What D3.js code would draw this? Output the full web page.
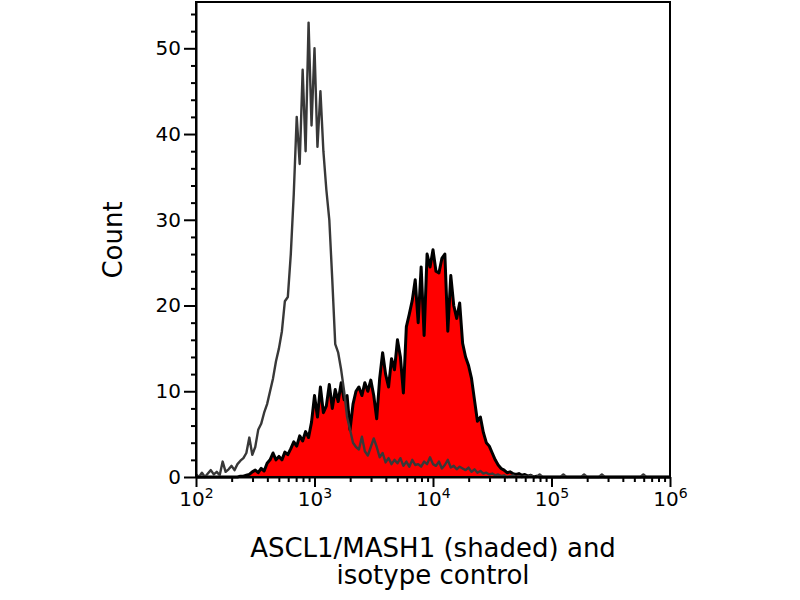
<!DOCTYPE html>
<html>
<head>
<meta charset="utf-8">
<script src="https://cdn.jsdelivr.net/npm/d3@7"></script>
<style>
  body { margin: 0; background: #fff; }
  svg { display: block; font-family: "DejaVu Sans", Verdana, sans-serif; }
</style>
</head>
<body>
<svg></svg>
<script>

// histogram channels: 40 channels per decade, from 10^2 to 10^6
var channelsPerDecade = 40;
var firstDecade = 2;

// isotype control (grey outline)
var isotypeCounts = [
    0.3, 0, 0.5, 0, 0.4, 0.8, 0.3, 0.6, 0.2, 1.8,
    0.6, 0.9, 1.3, 0.8, 1.5, 1.9, 2.2, 2.8, 4.6, 2.6,
    3.5, 5.5, 6.2, 7.5, 8.5, 10, 11.5, 13.5, 15, 17,
    20.5, 21, 26, 33, 42, 36.5, 47.5, 38, 53, 41,
    50, 38.5, 45, 38, 33.5, 30, 23, 15.5, 14.5, 12.5,
    10, 7, 5.5, 4, 3.5, 3.2, 4.7, 3, 2.5, 3.5,
    4.5, 3.5, 2.3, 2.8, 1.7, 2.2, 1.5, 2, 1.6, 2.2,
    1.3, 1.8, 1.2, 2, 1.4, 1.5, 1.2, 1.8, 1.5, 2.3,
    1.5, 1.3, 1.8, 1, 1.4, 2, 1.1, 1.3, 0.9, 1.2,
    1, 0.8, 1.1, 0.6, 0.9, 0.5, 0.7, 0.4, 0.5, 0.3,
    0.4, 0.2, 0.3, 0.1, 0.2, 0, 0.1, 0.2, 0, 0.1,
    0, 0.1, 0, 0.2, 0, 0, 0.3, 0, 0, 0,
    0, 0, 0, 0, 0.3, 0, 0, 0, 0, 0,
    0, 0.3, 0, 0, 0, 0, 0, 0.3, 0, 0,
    0, 0, 0, 0, 0, 0, 0, 0, 0, 0,
    0, 0.3, 0, 0, 0, 0, 0, 0, 0, 0,
    0
];

// ASCL1/MASH1 (red shaded)
var ascl1Counts = [
    0, 0, 0, 0, 0, 0, 0, 0, 0, 0,
    0, 0, 0, 0, 0, 0.1, 0.1, 0.2, 0.3, 0.6,
    0.8, 0.5, 1.0, 0.7, 1.6, 2.0, 2.8, 2.0, 2.4, 2.0,
    2.9, 2.6, 3.3, 4.1, 3.6, 4.8, 4.2, 5.3, 4.6, 6.4,
    9.5, 7.0, 10.5, 7.5, 8.3, 10.8, 8.0, 10.2, 8.8, 11.0,
    9.0, 9.5, 5.5, 8.5, 10.0, 10.5, 9.5, 11.0, 10.0, 11.3,
    9.5, 6.8, 11.5, 14.5, 12.0, 10.5, 13.8, 12.5, 16.0, 14.0,
    9.8, 17.5, 19.0, 20.6, 23.0, 18.0, 24.5, 16.5, 26.0, 24.5,
    26.5, 24.0, 23.8, 25.5, 26.0, 17.0, 23.5, 20.0, 18.5, 20.3,
    15.6, 14.0, 13.0, 11.5, 9.0, 6.5, 7.0, 5.2, 4.0, 3.6,
    2.8, 2.0, 1.4, 1.0, 0.8, 0.5, 0.6, 0.4, 0.3, 0.4,
    0.2, 0.3, 0.1, 0.2, 0, 0.1, 0, 0, 0, 0,
    0, 0, 0, 0, 0, 0, 0, 0, 0, 0,
    0, 0, 0, 0, 0, 0, 0, 0, 0, 0,
    0, 0, 0, 0, 0, 0, 0, 0, 0, 0,
    0, 0, 0, 0, 0, 0, 0, 0, 0, 0,
    0
];

var xMajorTicks = [1e2, 1e3, 1e4, 1e5, 1e6];
var yMajorTicks = [0, 10, 20, 30, 40, 50];
var yMinorTicks = [2, 4, 6, 8, 12, 14, 16, 18, 22, 24, 26, 28, 32, 34, 36, 38, 42, 44, 46, 48, 52, 54];

var yLabel = 'Count';
var xLabelLines = ['ASCL1/MASH1 (shaded) and', 'isotype control'];

document.addEventListener("DOMContentLoaded", (event) => {
    drawChart();
});

function toPoints(counts) {
    return counts.map((c, i) => {
        return { value: Math.pow(10, firstDecade + i / channelsPerDecade), count: c };
    });
}

function drawChart() {
    var svgWidth = 800, svgHeight = 600;
    var margin = { top: 2, right: 130, bottom: 123, left: 196 };
    var width = svgWidth - margin.left - margin.right;
    var height = svgHeight - margin.top - margin.bottom;

    var svg = d3.select('svg')
        .attr('width', svgWidth)
        .attr('height', svgHeight);

    var g = svg.append('g')
        .attr('transform', 'translate(' + margin.left + ',' + margin.top + ')');

    var x = d3.scaleLog()
        .domain([1e2, 1e6])
        .range([0, width]);

    var y = d3.scaleLinear()
        .domain([0, 55.4])
        .range([height, 0]);

    var isotype = toPoints(isotypeCounts);
    var ascl1 = toPoints(ascl1Counts);

    var area = d3.area()
        .x((d) => { return x(d.value) })
        .y0(y(0))
        .y1((d) => { return y(d.count) });

    var line = d3.line()
        .x((d) => { return x(d.value) })
        .y((d) => { return y(d.count) });

    // shaded sample
    g.append('path')
        .datum(ascl1)
        .attr('fill', '#ff0000')
        .attr('d', area);

    g.append('path')
        .datum(ascl1)
        .attr('fill', 'none')
        .attr('stroke', '#000')
        .attr('stroke-width', 3)
        .attr('stroke-linejoin', 'round')
        .attr('d', line);

    // isotype control
    g.append('path')
        .datum(isotype)
        .attr('fill', 'none')
        .attr('stroke', '#383838')
        .attr('stroke-width', 2.4)
        .attr('stroke-linejoin', 'round')
        .attr('d', line);

    // frame
    g.append('rect')
        .attr('x', 0)
        .attr('y', 0)
        .attr('width', width)
        .attr('height', height)
        .attr('fill', 'none')
        .attr('stroke', '#000')
        .attr('stroke-width', 2);

    // x axis minor ticks
    var xMinor = [];
    xMajorTicks.slice(0, -1).forEach((d) => {
        for (var k = 2; k <= 9; k++) xMinor.push(d * k);
    });

    g.append('g')
        .attr('transform', 'translate(0,' + height + ')')
        .call(d3.axisBottom(x).tickValues(xMinor).tickSize(5).tickSizeOuter(0).tickFormat(''))
        .call((a) => { a.select('.domain').remove(); a.selectAll('line').attr('stroke-width', 2); });

    var xAxis = g.append('g')
        .attr('transform', 'translate(0,' + height + ')')
        .call(d3.axisBottom(x).tickValues(xMajorTicks).tickSize(10).tickPadding(5).tickSizeOuter(0))
        .attr('font-size', 20)
        .attr('font-family', '"DejaVu Sans", Verdana, sans-serif');
    xAxis.select('.domain').attr('stroke-width', 2);
    xAxis.selectAll('line').attr('stroke-width', 2);
    xAxis.selectAll('text').each(function(d) {
        var t = d3.select(this);
        t.text('');
        t.append('tspan').text('10');
        t.append('tspan')
            .attr('dy', '-8')
            .attr('font-size', 14)
            .text(Math.round(Math.log10(d)));
    });

    // y axis
    g.append('g')
        .call(d3.axisLeft(y).tickValues(yMinorTicks).tickSize(5).tickSizeOuter(0).tickFormat(''))
        .call((a) => { a.select('.domain').remove(); a.selectAll('line').attr('stroke-width', 2); });

    var yAxis = g.append('g')
        .call(d3.axisLeft(y).tickValues(yMajorTicks).tickSize(12).tickPadding(3).tickSizeOuter(0))
        .attr('font-size', 20)
        .attr('font-family', '"DejaVu Sans", Verdana, sans-serif');
    yAxis.select('.domain').attr('stroke-width', 2);
    yAxis.selectAll('line').attr('stroke-width', 2);

    // axis titles
    svg.append('text')
        .attr('transform', 'translate(122,240) rotate(-90)')
        .attr('text-anchor', 'middle')
        .attr('font-size', 26)
        .text(yLabel);

    svg.append('g')
        .selectAll('text')
        .data(xLabelLines)
        .enter()
        .append('text')
        .attr('x', 433)
        .attr('y', (d, i) => { return 557 + i * 27 })
        .attr('text-anchor', 'middle')
        .attr('font-size', 26)
        .text((d) => { return d });
}
</script>
</body>
</html>
